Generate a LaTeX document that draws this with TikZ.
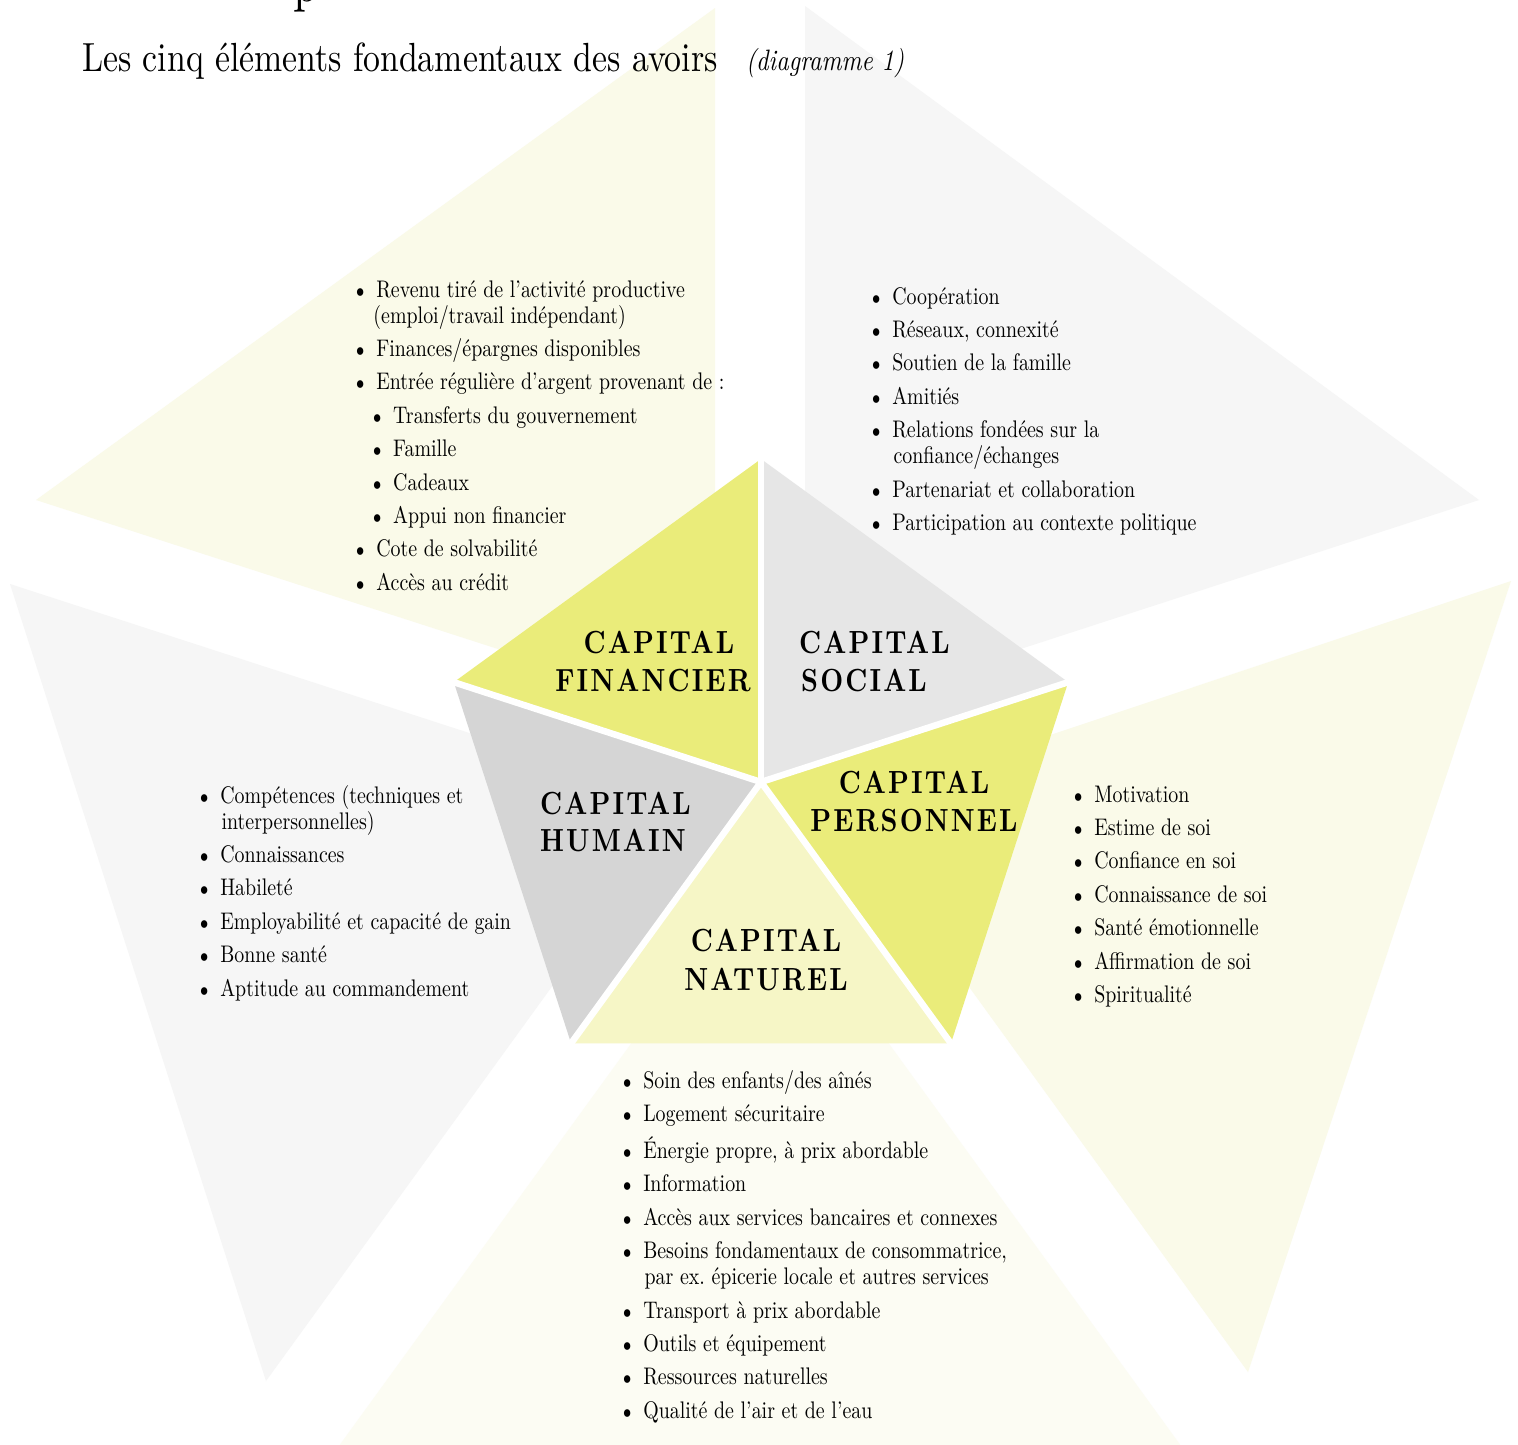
\documentclass[tikz,border=0pt]{standalone}
\usepackage{fontspec}
\setmainfont{lmroman10-regular.otf}[BoldFont=lmroman10-bold.otf,ItalicFont=lmroman10-italic.otf,BoldItalicFont=lmroman10-bolditalic.otf]
\usepackage{graphicx}
\usetikzlibrary{calc}
\definecolor{finY}{RGB}{234,236,122}
\definecolor{socG}{RGB}{230,230,230}
\definecolor{natY}{RGB}{246,246,198}
\definecolor{humG}{RGB}{213,213,213}
\definecolor{bgY}{RGB}{250,250,233}
\definecolor{bgG}{RGB}{246,246,246}
\definecolor{bgN}{RGB}{252,252,243}
\newcommand\myxs[1]{\scalebox{0.83}[1]{#1}}
\newcommand\bodyfnt{\fontsize{24}{26}\selectfont}
\newcommand\capfnt{\fontsize{32}{38}\selectfont\bfseries\addfontfeature{LetterSpace=8}}
\newcommand\blt{\makebox[25.4pt][l]{\hspace*{1.2pt}\scalebox{0.8}{$\bullet$}}}
\newcommand\itm[1]{\blt#1}
\newcommand\subitm[1]{\hspace*{20.4pt}\blt#1}
\newcommand\wrp[1]{\hspace*{27pt}#1}
\newcommand\gp{\\[7.4pt]}
\begin{document}
\begin{tikzpicture}[x=1pt,y=-1pt,
  listnode/.style={anchor=base west,inner sep=0pt,font=\bodyfnt,text=black},
  caplbl/.style={anchor=base,inner sep=0pt,font=\capfnt,text=black},
  caplblw/.style={anchor=base west,inner sep=0pt,font=\capfnt,text=black},
  sep/.style={white,line width=6.5pt,shorten >=-9pt}]
\useasboundingbox (0,0) rectangle (1518,1444);
\fill[white] (0,0) rectangle (1518,1444);
% outer triangles
\coordinate (Ftop) at (715,8);   \coordinate (Fleft) at (36,500);   \coordinate (Fcor) at (715,719);
\coordinate (Stop) at (805,6);   \coordinate (Sright) at (1479,500); \coordinate (Scor) at (805,719);
\coordinate (Pup) at (1511,581); \coordinate (Ptip) at (1248,1372); \coordinate (Pcor) at (838,806);
\coordinate (Hup) at (10,584);   \coordinate (Htip) at (266,1381);  \coordinate (Hcor) at (685,803);
\coordinate (Ncor) at (760,866); \coordinate (Nl) at (336,1450);    \coordinate (Nr) at (1184,1450);
\fill[bgY] (Fcor) -- (Ftop) -- (Fleft) -- cycle;
\fill[bgG] (Scor) -- (Stop) -- (Sright) -- cycle;
\fill[bgY] (Pcor) -- (Pup) -- (Ptip) -- cycle;
\fill[bgG] (Hcor) -- (Hup) -- (Htip) -- cycle;
\fill[bgN] (Ncor) -- (Nl) -- (Nr) -- cycle;
% pentagon
\coordinate (C) at (761,782);
\coordinate (T) at (761,459);
\coordinate (UL) at (453.8,682.2);
\coordinate (UR) at (1068.2,682.2);
\coordinate (LL) at (571.1,1043.3);
\coordinate (LR) at (950.9,1043.3);
\fill[finY] (C) -- (T) -- (UL) -- cycle;
\fill[socG] (C) -- (T) -- (UR) -- cycle;
\fill[finY] (C) -- (UR) -- (LR) -- cycle;
\fill[natY] (C) -- (LR) -- (LL) -- cycle;
\fill[humG] (C) -- (LL) -- (UL) -- cycle;
\draw[sep] (C) -- (T);
\draw[sep] (C) -- (UL);
\draw[sep] (C) -- (UR);
\draw[sep] (C) -- (LL);
\draw[sep] (C) -- (LR);
% title
\node[anchor=base west,inner sep=0pt,font=\fontsize{55}{55}\selectfont] (frag) at (293,1) {\myxs{p}};
\node[anchor=base west,inner sep=0pt,font=\fontsize{40.7}{44}\selectfont] (title) at (82,71) {\myxs{Les cinq éléments fondamentaux des avoirs}};
\node[anchor=base west,inner sep=0pt,font=\fontsize{29.5}{32}\selectfont\itshape] (diag) at (746,70) {\myxs{(diagramme 1)}};
% labels
\node[caplbl] (finA) at (659,653) {\myxs{CAPITAL}};
\node[caplbl] (finB) at (653,691) {\myxs{FINANCIER}};
\node[caplblw] (socA) at (799,653) {\myxs{CAPITAL}};
\node[caplblw] (socB) at (801,691) {\myxs{SOCIAL}};
\node[caplbl] (perA) at (914,793) {\myxs{CAPITAL}};
\node[caplbl] (perB) at (914,831) {\myxs{PERSONNEL}};
\node[caplblw] (humA) at (540,814) {\myxs{CAPITAL}};
\node[caplblw] (humB) at (540,851) {\myxs{HUMAIN}};
\node[caplbl] (natA) at (766,951) {\myxs{CAPITAL}};
\node[caplbl] (natB) at (766,990) {\myxs{NATUREL}};
% lists
\node[listnode] (finlist) at (355,297) {\myxs{\begin{tabular}[t]{@{}l@{}}
\itm{Revenu tiré de l’activité productive}\\
\hspace*{22pt}(emploi/travail indépendant)\gp
\itm{Finances/épargnes disponibles}\gp
\itm{Entrée régulière d’argent provenant de~:}\gp
\subitm{Transferts du gouvernement}\gp
\subitm{Famille}\gp
\subitm{Cadeaux}\gp
\subitm{Appui non financier}\gp
\itm{Cote de solvabilité}\gp
\itm{Accès au crédit}
\end{tabular}}};
\node[listnode] (soclist) at (871,304) {\myxs{\begin{tabular}[t]{@{}l@{}}
\itm{Coopération}\gp
\itm{Réseaux, connexité}\gp
\itm{Soutien de la famille}\gp
\itm{Amitiés}\gp
\itm{Relations fondées sur la}\\
\wrp{confiance/échanges}\gp
\itm{Partenariat et collaboration}\gp
\itm{Participation au contexte politique}
\end{tabular}}};
\node[listnode] (humlist) at (199,803) {\myxs{\begin{tabular}[t]{@{}l@{}}
\itm{Compétences (techniques et}\\
\wrp{interpersonnelles)}\gp
\itm{Connaissances}\gp
\itm{Habileté}\gp
\itm{Employabilité et capacité de gain}\gp
\itm{Bonne santé}\gp
\itm{Aptitude au commandement}
\end{tabular}}};
\node[listnode] (perlist) at (1073,802) {\myxs{\begin{tabular}[t]{@{}l@{}}
\itm{Motivation}\gp
\itm{Estime de soi}\gp
\itm{Confiance en soi}\gp
\itm{Connaissance de soi}\gp
\itm{Santé émotionnelle}\gp
\itm{Affirmation de soi}\gp
\itm{Spiritualité}
\end{tabular}}};
\node[listnode] (natlist) at (622,1088) {\myxs{\begin{tabular}[t]{@{}l@{}}
\itm{Soin des enfants/des aînés}\gp
\itm{Logement sécuritaire}\gp
\itm{Énergie propre, à prix abordable}\gp
\itm{Information}\gp
\itm{Accès aux services bancaires et connexes}\gp
\itm{Besoins fondamentaux de consommatrice,}\\
\wrp{par ex.\ épicerie locale et autres services}\gp
\itm{Transport à prix abordable}\gp
\itm{Outils et équipement}\gp
\itm{Ressources naturelles}\gp
\itm{Qualité de l’air et de l’eau}
\end{tabular}}};
\end{tikzpicture}
\end{document}
